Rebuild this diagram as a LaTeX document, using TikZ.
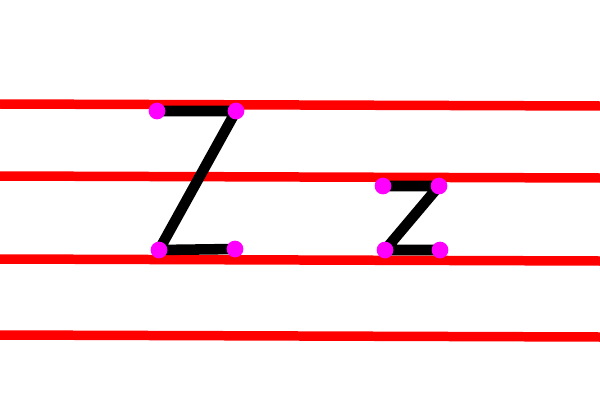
\documentclass[tikz,border=0pt]{standalone}
\usepackage{xcolor}
\definecolor{GuideRed}{HTML}{FF0000}
\definecolor{DotMagenta}{HTML}{FF00FF}
\definecolor{StrokeBlack}{HTML}{000000}

\begin{document}
\begin{tikzpicture}[
	x=0.01cm,
	y=-0.01cm,
	% Guide line style
	guide/.style={
		draw=GuideRed,
		line width=2.7pt
	},
	% Letter stroke style
	stroke/.style={
		draw=StrokeBlack,
		line width=3pt,
		line join=round
	},
	% Point marker style
	dot/.style={
		circle,
		fill=DotMagenta,
		inner sep=0pt,
		minimum size=0.167cm
	}
	]
	
	\useasboundingbox (0,0) rectangle (600,400);
	
	% ================= GUIDES =================
	\draw[guide] (0,104) -- (600,106);
	\draw[guide] (0,176) -- (600,178);
	\draw[guide] (0,259) -- (600,261);
	\draw[guide] (0,335) -- (600,337);
	
	% ================= POINTS =================
	\coordinate (Z1) at (157,111);
	\coordinate (Z2) at (236,111);
	\coordinate (Z3) at (159,250);
	\coordinate (Z4) at (235,249);
	
	\coordinate (z1) at (383,186);
	\coordinate (z2) at (439,186);
	\coordinate (z3) at (385,250);
	\coordinate (z4) at (440,250);
	
	% ================= STROKES =================
	\draw[stroke] (Z1) -- (Z2) -- (Z3) -- (Z4);
	\draw[stroke] (z1) -- (z2) -- (z3) -- (z4);
	
	% ================= DOTS =================
	\node[dot] (Z1dot) at (Z1) {};
	\node[dot] (Z2dot) at (Z2) {};
	\node[dot] (Z3dot) at (Z3) {};
	\node[dot] (Z4dot) at (Z4) {};
	
	\node[dot] (z1dot) at (z1) {};
	\node[dot] (z2dot) at (z2) {};
	\node[dot] (z3dot) at (z3) {};
	\node[dot] (z4dot) at (z4) {};
	
\end{tikzpicture}
\end{document}
